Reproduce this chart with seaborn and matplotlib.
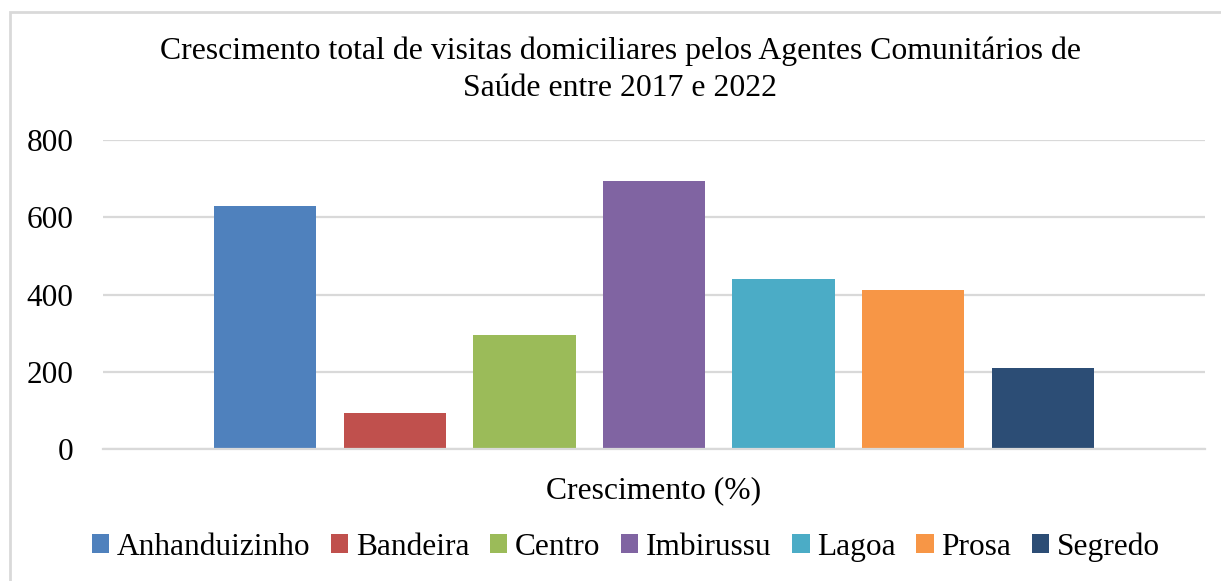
import matplotlib
matplotlib.use("Agg")
import matplotlib.pyplot as plt
import seaborn as sns
import pandas as pd
from matplotlib.patches import Rectangle

categories = ["Anhanduizinho", "Bandeira", "Centro", "Imbirussu", "Lagoa", "Prosa", "Segredo"]
values = [630, 93, 295, 694, 440, 412, 210]
group_label = "Crescimento (%)"
colors = ["#4F81BD", "#C0504D", "#9BBB59", "#8064A2", "#4BACC6", "#F79646", "#2C4D75"]
yticks = [0, 200, 400, 600, 800]

df = pd.DataFrame({"grupo": [group_label] * len(categories), "bairro": categories, "valor": values})

sns.set_theme(style="white")
plt.rcParams["font.family"] = ["Liberation Serif", "DejaVu Serif"]
plt.rcParams["text.color"] = "#000000"

fig = plt.figure(figsize=(12.21, 5.81), dpi=100)
ax = fig.add_axes([103 / 1221, 1 - 449 / 581, 1102 / 1221, 308.7 / 581])

sns.barplot(data=df, x="grupo", y="valor", hue="bairro", hue_order=categories,
            palette=colors, width=0.823, gap=0.21, saturation=1, ax=ax, legend=True)
for p in ax.patches:
    p.set_edgecolor("none")

ax.set_xlim(-0.5, 0.5)
ax.set_ylim(0, 800)
ax.set_yticks(yticks)
ax.set_yticklabels([str(v) for v in yticks], fontsize=22.5, color="#000000")
ax.tick_params(axis="y", length=0, pad=21.5)
ax.set_xticks([])
ax.set_xlabel(group_label, fontsize=22.8, labelpad=19.5, color="#000000")
ax.set_ylabel("")
ax.grid(axis="y", color="#D9D9D9", linewidth=1.6)
ax.set_axisbelow(True)
for side in ["left", "right", "top"]:
    ax.spines[side].set_visible(False)
ax.spines["bottom"].set_color("#D9D9D9")
ax.spines["bottom"].set_linewidth(1.6)

handles, labels = ax.get_legend_handles_labels()
ax.legend_.remove()
fig.legend(handles, labels, loc="center", bbox_to_anchor=(626 / 1221, 1 - 547 / 581),
           ncol=7, frameon=False, fontsize=22.6, handlelength=0.55, handleheight=0.55,
           handletextpad=0.25, columnspacing=0.65, labelcolor="#000000")

fig.text(620 / 1221, 1 - 70 / 581,
         "Crescimento total de visitas domiciliares pelos Agentes Comunitários de\nSaúde entre 2017 e 2022",
         ha="center", va="center", fontsize=22.9, linespacing=1.35, color="#000000")

fig.patches.append(Rectangle((10 / 1221, -0.1), 1.2, 1 - 12 / 581 + 0.1, transform=fig.transFigure,
                             fill=False, edgecolor="#D9D9D9", linewidth=2, zorder=0))

fig.savefig("out.png", dpi=100, facecolor="white")
